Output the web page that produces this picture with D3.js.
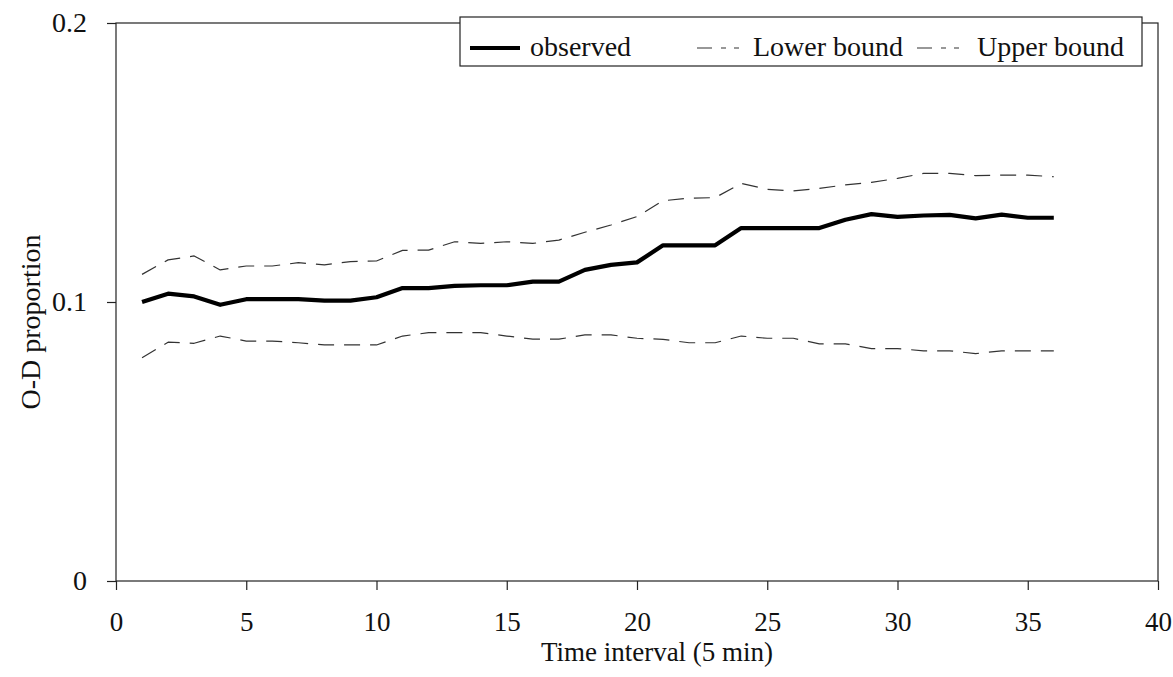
<!DOCTYPE html>
<html>
<head>
<meta charset="utf-8">
<script src="https://cdn.jsdelivr.net/npm/d3@7"></script>
<style>
  html, body { margin: 0; padding: 0; background: #fff; }
  text { font-family: 'Liberation Serif', 'Times New Roman', serif; fill: #111; }
</style>
</head>
<body>
<div id="chart"></div>
<script>
const intervals = d3.range(1, 37)

const observed = [
  0.100, 0.103, 0.102, 0.099, 0.101, 0.101, 0.101, 0.1005, 0.1005, 0.1017,
  0.105, 0.105, 0.1058, 0.106, 0.106, 0.1073, 0.1073, 0.1115, 0.1133, 0.1142,
  0.1203, 0.1203, 0.1203, 0.1265, 0.1265, 0.1265, 0.1265, 0.1295, 0.1315, 0.1305,
  0.1310, 0.1312, 0.1300, 0.1313, 0.1302, 0.1302
]

const lowerBound = [
  0.080, 0.0856, 0.0852, 0.0878, 0.086, 0.086, 0.0854, 0.0846, 0.0846, 0.0846,
  0.0878, 0.089, 0.089, 0.089, 0.0878, 0.0867, 0.0867, 0.0882, 0.0882, 0.087,
  0.0866, 0.0854, 0.0854, 0.0878, 0.087, 0.087, 0.085, 0.085, 0.0833, 0.0833,
  0.0825, 0.0825, 0.0815, 0.0825, 0.0825, 0.0825
]

const upperBound = [
  0.1099, 0.1151, 0.1165, 0.1115, 0.1129, 0.1129, 0.1141, 0.1133, 0.1145, 0.1147,
  0.1185, 0.1186, 0.1216, 0.121, 0.1216, 0.121, 0.1222, 0.125, 0.1276, 0.1306,
  0.1363, 0.1372, 0.1374, 0.1425, 0.1404, 0.1398, 0.1407, 0.142, 0.1429, 0.1443,
  0.1461, 0.1461, 0.1453, 0.1455, 0.1455, 0.1449
]

const xTicks = [0, 5, 10, 15, 20, 25, 30, 35, 40]
const yTicks = [0, 0.1, 0.2]

const seriesList = [
  { name: 'observed',    values: observed,   width: 4.2, dash: null },
  { name: 'Lower bound', values: lowerBound, width: 1.2, dash: '16 10' },
  { name: 'Upper bound', values: upperBound, width: 1.2, dash: '16 10' },
]

const width = 1173, height = 677
const MARGIN = { top: 23, right: 15, bottom: 96, left: 116 }
const W = width - MARGIN.left - MARGIN.right
const H = height - MARGIN.top - MARGIN.bottom

const svg = d3.select('#chart').append('svg')
  .attr('width', width).attr('height', height)

const g = svg.append('g').attr('transform', `translate(${MARGIN.left},${MARGIN.top})`)

const x = d3.scaleLinear().domain([0, 40]).range([0, W])
const y = d3.scaleLinear().domain([0, 0.2]).range([H, 0])

// ── frame ──────────────────────────────────────────────
g.append('rect')
  .attr('width', W).attr('height', H)
  .attr('fill', 'none').attr('stroke', '#222').attr('stroke-width', 1.2)

// ── axes ───────────────────────────────────────────────
const xAxis = g.append('g').attr('transform', `translate(0,${H})`)
  .call(d3.axisBottom(x).tickValues(xTicks).tickSize(9).tickPadding(22).tickFormat(d3.format('d')))
xAxis.select('.domain').remove()
xAxis.selectAll('line').attr('stroke', '#222').attr('stroke-width', 1.2)
xAxis.selectAll('text').style('font-size', '27px')

const yAxis = g.append('g')
  .call(d3.axisLeft(y).tickValues(yTicks).tickSize(9).tickPadding(20).tickFormat(d => d === 0 ? '0' : d3.format('.1f')(d)))
yAxis.select('.domain').remove()
yAxis.selectAll('line').attr('stroke', '#222').attr('stroke-width', 1.2)
yAxis.selectAll('text').style('font-size', '28px')

// axis titles
svg.append('text')
  .attr('x', 657).attr('y', 661)
  .attr('text-anchor', 'middle').style('font-size', '27px')
  .text('Time interval (5 min)')

svg.append('text')
  .attr('transform', `translate(40,${MARGIN.top + H / 2 + 20}) rotate(-90)`)
  .attr('text-anchor', 'middle').style('font-size', '28px')
  .text('O-D proportion')

// ── lines ──────────────────────────────────────────────
const line = d3.line()
  .x((d, i) => x(intervals[i]))
  .y(d => y(d))

seriesList.forEach(s => {
  g.append('path')
    .datum(s.values)
    .attr('d', line)
    .attr('fill', 'none')
    .attr('stroke', s.dash ? '#333' : '#000')
    .attr('stroke-width', s.width)
    .attr('stroke-linejoin', 'round')
    .attr('stroke-dasharray', s.dash)
})

// ── legend ─────────────────────────────────────────────
const legend = svg.append('g').attr('transform', 'translate(460,17)')
legend.append('rect')
  .attr('width', 682).attr('height', 49)
  .attr('fill', '#fff').attr('stroke', '#222').attr('stroke-width', 1.2)

const legendLayout = [
  { x: 10,  len: 50, tx: 60 },
  { x: 237, len: 44, tx: 56 },
  { x: 457, len: 46, tx: 60 },
]
seriesList.forEach((s, i) => {
  const p = legendLayout[i]
  const lg = legend.append('g').attr('transform', `translate(${p.x},0)`)
  lg.append('line')
    .attr('x1', 0).attr('x2', p.len)
    .attr('y1', 31).attr('y2', 31)
    .attr('stroke', s.dash ? '#333' : '#000')
    .attr('stroke-width', s.width)
    .attr('stroke-dasharray', s.dash ? '15 9 5 8 5 8' : null)
  lg.append('text')
    .attr('x', p.tx).attr('y', 39)
    .style('font-size', '28px')
    .text(s.name)
})
</script>
</body>
</html>
